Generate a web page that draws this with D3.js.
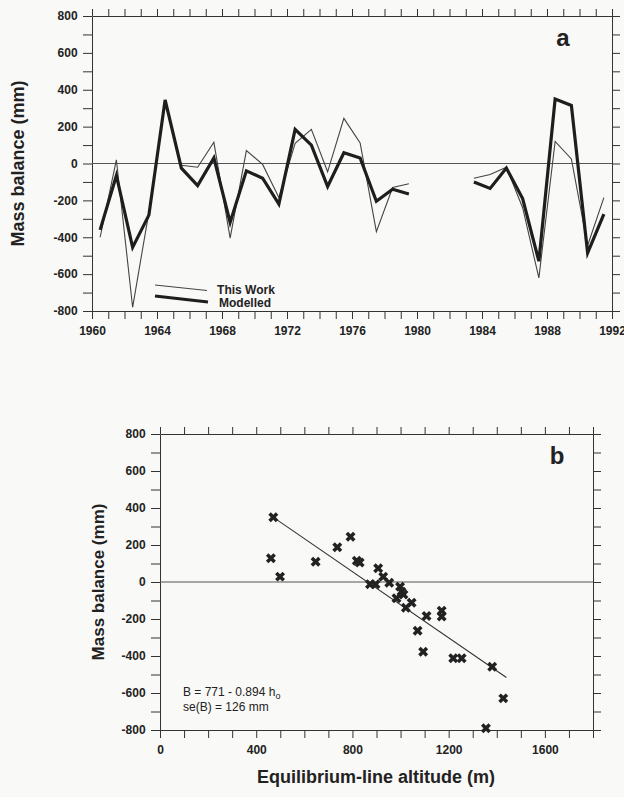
<!DOCTYPE html>
<html>
<head>
<meta charset="utf-8">
<script src="https://cdn.jsdelivr.net/npm/d3@7"></script>
<style>
  body { margin: 0; background: #f9f9f7; }
  svg { display: block; font-family: "Liberation Sans", Arial, Helvetica, sans-serif; }
  .axis path, .axis line { stroke: #333; stroke-width: 1; }
  .axis text { fill: #222; font-size: 12px; font-weight: bold; }
</style>
</head>
<body>
<div id="chart"></div>
<script>
// panel a: annual mass balance, 1960-1991 (plotted mid-year), gap 1980-82
const years = d3.range(1960, 1992);
const thisWork = [-400, 20, -780, -265, 340, -10, -20, 115, -405, 70, -5, -185, 110, 185, -45, 245, 112, -370, -130, -110,
                  null, null, null, -80, -60, -20, -240, -620, 120, 25, -445, -185];
const modelled = [-360, -65, -455, -280, 345, -25, -120, 30, -320, -40, -80, -220, 185, 100, -125, 58, 30, -205, -140, -165,
                  null, null, null, -100, -135, -25, -190, -530, 350, 315, -485, -275];
const yearLabels = [1960, 1964, 1968, 1972, 1976, 1980, 1984, 1988, 1992];

// panel b: mass balance against equilibrium-line altitude
const ela =     [471, 461, 499, 647, 737, 792, 818, 830, 907, 928, 953, 873, 896, 998, 1004, 983, 1012, 1046, 1022,
                 1108, 1171, 1171, 1071, 1094, 1219, 1254, 1381, 1427, 1355];
const balance = [350, 128, 29, 110, 188, 245, 115, 105, 74, 29, -4, -12, -12, -25, -52, -88, -68, -112, -139,
                 -184, -155, -187, -263, -377, -412, -412, -458, -629, -791];
const fitIntercept = 771, fitSlope = -0.894, fitRange = [470, 1440];
const balanceLabels = [-800, -600, -400, -200, 0, 200, 400, 600, 800];
const elaLabels = [0, 400, 800, 1200, 1600];

const width = 624, height = 797;
const svg = d3.select("#chart").append("svg")
  .attr("width", width).attr("height", height);

function frame(g, x, y, xTicks, xLabels, yTicks, yLabels) {
  const [x0, x1] = x.range(), [y0, y1] = y.range();
  // bottom
  g.append("g").attr("class", "axis").attr("transform", `translate(0,${y0})`)
    .call(d3.axisBottom(x).tickValues(xTicks).tickSize(8).tickSizeOuter(0)
      .tickFormat(d => xLabels.includes(d) ? d : ""))
    .call(a => a.selectAll("text").attr("dy", "1.05em"));
  // top
  g.append("g").attr("class", "axis").attr("transform", `translate(0,${y1})`)
    .call(d3.axisTop(x).tickValues(xTicks).tickSize(7).tickSizeOuter(0).tickFormat(""));
  // left
  g.append("g").attr("class", "axis").attr("transform", `translate(${x0},0)`)
    .call(d3.axisLeft(y).tickValues(yTicks).tickSize(9).tickSizeOuter(0)
      .tickFormat(d => yLabels.includes(d) ? String(d) : ""))
    .call(a => a.selectAll("text").attr("dx", "-0.2em"));
  // right
  g.append("g").attr("class", "axis").attr("transform", `translate(${x1},0)`)
    .call(d3.axisRight(y).tickValues(yTicks).tickSize(8).tickSizeOuter(0).tickFormat(""));
  // zero line
  g.append("line")
    .attr("x1", x0).attr("x2", x1).attr("y1", y(0)).attr("y2", y(0))
    .attr("stroke", "#555").attr("stroke-width", 1);
}

// ---------- panel a ----------
const xA = d3.scaleLinear().domain([1960, 1992]).range([92, 612]);
const yA = d3.scaleLinear().domain([-800, 800]).range([311, 16]);
const gA = svg.append("g");
frame(gA, xA, yA, d3.range(1960, 1993), yearLabels, d3.range(-800, 801, 100), balanceLabels);

const lineA = d3.line()
  .defined(d => d.v !== null)
  .x(d => xA(d.year + 0.5))
  .y(d => yA(d.v));

gA.append("path")
  .datum(years.map((year, i) => ({ year, v: thisWork[i] })))
  .attr("d", lineA)
  .attr("fill", "none").attr("stroke", "#444").attr("stroke-width", 1.1);

gA.append("path")
  .datum(years.map((year, i) => ({ year, v: modelled[i] })))
  .attr("d", lineA)
  .attr("fill", "none").attr("stroke", "#1e1e1e").attr("stroke-width", 3.2);

// legend
gA.append("line").attr("x1", 155).attr("y1", 285).attr("x2", 207).attr("y2", 290.5)
  .attr("stroke", "#444").attr("stroke-width", 1.1);
gA.append("line").attr("x1", 155).attr("y1", 296).attr("x2", 208).attr("y2", 302)
  .attr("stroke", "#1e1e1e").attr("stroke-width", 3.2);
gA.append("text").attr("x", 246).attr("y", 294).attr("text-anchor", "middle")
  .attr("font-size", 12).attr("font-weight", "bold").attr("fill", "#222").text("This Work");
gA.append("text").attr("x", 245).attr("y", 307).attr("text-anchor", "middle")
  .attr("font-size", 12).attr("font-weight", "bold").attr("fill", "#222").text("Modelled");

gA.append("text").attr("x", 563).attr("y", 46).attr("text-anchor", "middle")
  .attr("font-size", 24).attr("font-weight", "bold").attr("fill", "#222").text("a");

gA.append("text")
  .attr("transform", `translate(24,${(yA.range()[0] + yA.range()[1]) / 2}) rotate(-90)`)
  .attr("text-anchor", "middle").attr("font-size", 18).attr("font-weight", "bold").attr("fill", "#222")
  .text("Mass balance (mm)");

// ---------- panel b ----------
const xB = d3.scaleLinear().domain([0, 1800]).range([160, 593]);
const yB = d3.scaleLinear().domain([-800, 800]).range([730, 434]);
const gB = svg.append("g");
frame(gB, xB, yB, d3.range(0, 1801, 100), elaLabels, d3.range(-800, 801, 100), balanceLabels);

gB.append("line")
  .attr("x1", xB(fitRange[0])).attr("y1", yB(fitIntercept + fitSlope * fitRange[0]))
  .attr("x2", xB(fitRange[1])).attr("y2", yB(fitIntercept + fitSlope * fitRange[1]))
  .attr("stroke", "#333").attr("stroke-width", 1.1);

const cross = d3.symbol().type(d3.symbolCross).size(62);
gB.selectAll(".pt")
  .data(ela.map((h, i) => ({ h, b: balance[i] })))
  .enter().append("path")
  .attr("class", "pt")
  .attr("d", cross)
  .attr("transform", d => `translate(${xB(d.h)},${yB(d.b)}) rotate(45)`)
  .attr("fill", "#222");

gB.append("text").attr("x", 557).attr("y", 464).attr("text-anchor", "middle")
  .attr("font-size", 24).attr("font-weight", "bold").attr("fill", "#222").text("b");

const eq = gB.append("text").attr("x", 183).attr("y", 696)
  .attr("font-size", 12).attr("fill", "#222");
eq.append("tspan").text("B = 771 - 0.894 h");
eq.append("tspan").attr("font-size", 9).attr("dy", 3).text("o");
gB.append("text").attr("x", 183).attr("y", 711)
  .attr("font-size", 12).attr("fill", "#222").text("se(B) = 126 mm");

gB.append("text")
  .attr("transform", `translate(104,${(yB.range()[0] + yB.range()[1]) / 2}) rotate(-90)`)
  .attr("text-anchor", "middle").attr("font-size", 17).attr("font-weight", "bold").attr("fill", "#222")
  .text("Mass balance (mm)");

gB.append("text")
  .attr("x", 376).attr("y", 783)
  .attr("text-anchor", "middle").attr("font-size", 18).attr("font-weight", "bold").attr("fill", "#222")
  .text("Equilibrium-line altitude (m)");
</script>
</body>
</html>
